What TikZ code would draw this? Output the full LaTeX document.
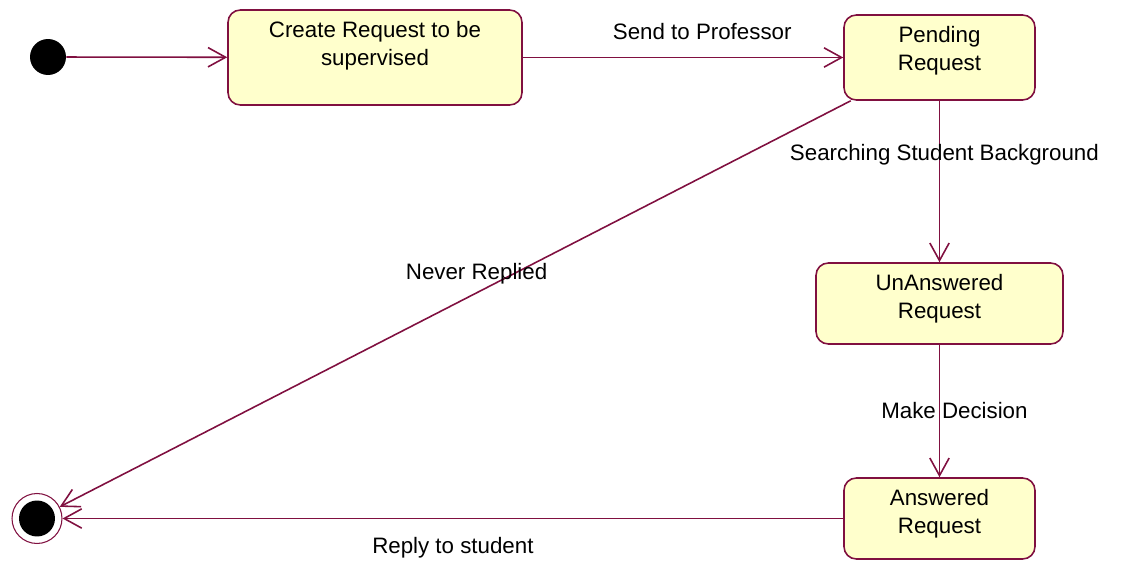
\documentclass[tikz,border=0pt]{standalone}
\usepackage{fontspec}
\setmainfont{Liberation Sans}
\usetikzlibrary{arrows.meta}
\definecolor{rosered}{RGB}{128,16,64}
\definecolor{statefill}{RGB}{255,255,204}

\begin{document}
\begin{tikzpicture}
	[x=0.02cm, y=-0.02cm, font=\fontsize{12.7}{16.2}\selectfont,
	state/.style={draw=rosered, fill=statefill, line width=0.9pt, rounded corners=7pt},
	stext/.style={anchor=north, inner sep=0pt, yshift=-6.5pt, align=center},
	trans/.style={draw=rosered, line width=0.9pt, -{Straight Barb[length=10pt,width=11pt]}},
	elabel/.style={inner sep=1pt}];

	\useasboundingbox (0,0) rectangle (1134,564);

	%States
	\node[circle, fill=black, minimum size=0.72cm, inner sep=0pt] (startdot) at (48,57) {};
	\node[state, minimum width=5.88cm, minimum height=1.9cm, label={[stext]north:Create Request to be\\supervised}] (create) at (375,57.5) {};
	\node[state, minimum width=3.82cm, minimum height=1.7cm, label={[stext]north:Pending\\Request}] (pending) at (939.5,57.5) {};
	\node[state, minimum width=4.94cm, minimum height=1.62cm, label={[stext]north:UnAnswered\\Request}] (unanswered) at (939.5,303.5) {};
	\node[state, minimum width=3.82cm, minimum height=1.62cm, label={[stext]north:Answered\\Request}] (answered) at (939.5,518.5) {};
	\node[circle, draw=rosered, line width=0.6pt, minimum size=1cm, inner sep=0pt,
		path picture={\fill[black] (path picture bounding box.center) circle (0.36cm);}] (enddot) at (37,518.5) {};

	%Transitions
	\draw[trans] (startdot) -- (create);
	\draw[trans] (create) -- node[elabel, pos=0.56, yshift=14.7pt] {Send to Professor} (pending);
	\draw[trans] (pending) -- node[elabel, pos=0.337, xshift=2.8pt] {Searching Student Background} (unanswered);
	\draw[trans] (unanswered) -- node[elabel, pos=0.5, xshift=8.5pt] {Make Decision} (answered);
	\draw[trans] (pending.206) -- node[elabel, pos=0.473, yshift=10.8pt] {Never Replied} (enddot);
	\draw[trans] (answered) -- node[elabel, pos=0.5, yshift=-16.5pt] {Reply to student} (enddot);
\end{tikzpicture}
\end{document}
